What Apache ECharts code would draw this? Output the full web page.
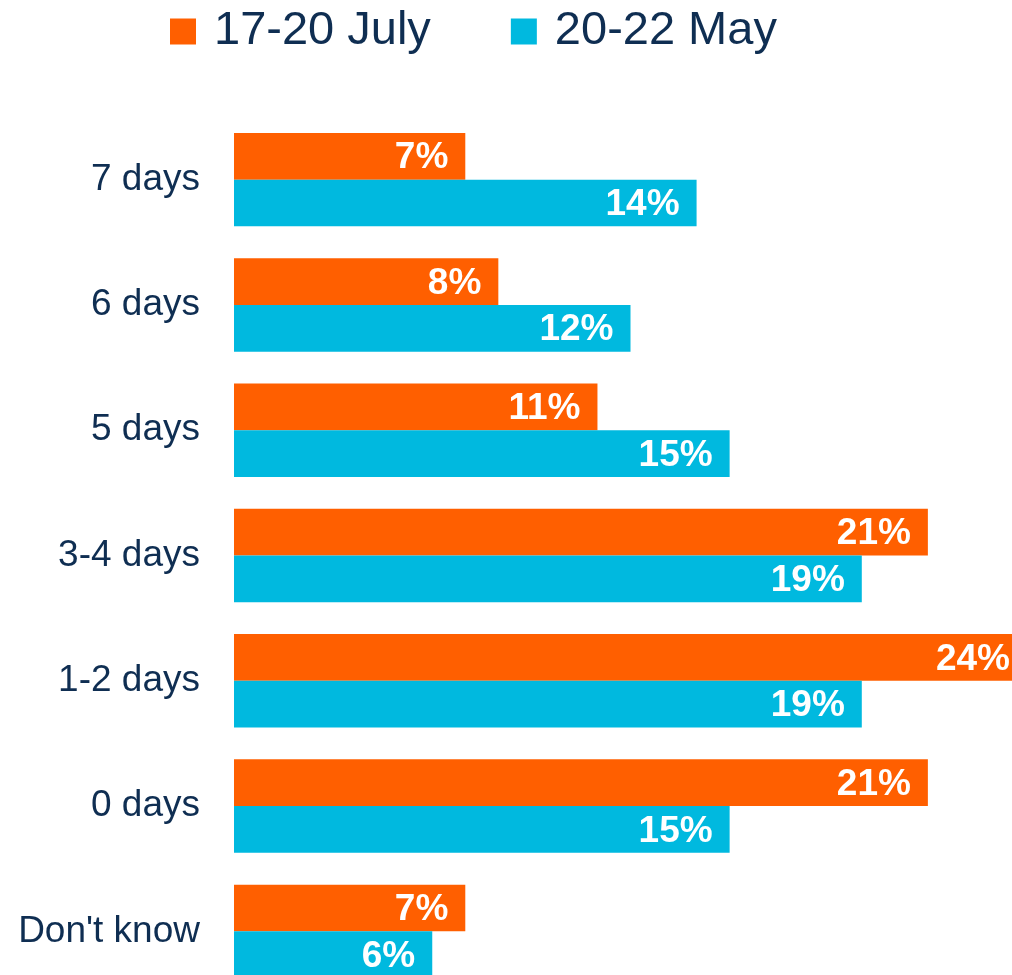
<!DOCTYPE html>
<html>
<head>
<meta charset="utf-8">
<script src="https://cdn.jsdelivr.net/npm/echarts@6/dist/echarts.min.js"></script>
<style>
html,body{margin:0;padding:0;background:#fff;overflow:hidden;width:1012px;height:975px;}
#chart{width:1027px;height:994px;}
</style>
</head>
<body>
<div id="chart"></div>
<script>
const categories = ["7 days", "6 days", "5 days", "3-4 days", "1-2 days", "0 days", "Don't know"];
const seriesNames = ["17-20 July", "20-22 May"];
const julyValues = [7, 8, 11, 21, 24, 21, 7];
const mayValues = [14, 12, 15, 19, 19, 15, 6];
const seriesColors = ["#FF5F00", "#00B9DF"];

const textColor = "#0F2E52";
const font = "'Liberation Sans', Arial, sans-serif";

const chart = echarts.init(document.getElementById('chart'), null, {renderer: 'canvas'});

function makeSeries(name, data, color) {
  return {
    name: name,
    type: 'bar',
    data: data,
    barGap: '0%',
    barCategoryGap: '25.4%',
    itemStyle: {color: color},
    label: {
      show: true,
      position: 'insideRight',
      distance: 17,
      offset: [0, 2],
      formatter: '{c}%',
      color: '#ffffff',
      fontFamily: font,
      fontWeight: 'bold',
      fontSize: 37
    },
    emphasis: {disabled: true}
  };
}

chart.setOption({
  animation: false,
  backgroundColor: '#ffffff',
  legend: {
    left: 170,
    top: 8,
    padding: 0,
    itemWidth: 26,
    itemHeight: 26,
    itemGap: 80,
    icon: 'rect',
    textStyle: {color: textColor, fontFamily: font, fontSize: 47, padding: [0, 0, 0, 13]},
    data: seriesNames
  },
  grid: {left: 234, right: 0, top: 117, bottom: 0, containLabel: false},
  xAxis: {
    type: 'value',
    min: 0,
    max: 24,
    show: false
  },
  yAxis: {
    type: 'category',
    data: categories,
    inverse: true,
    axisLine: {show: false},
    axisTick: {show: false},
    splitLine: {show: false},
    axisLabel: {color: textColor, fontFamily: font, fontSize: 37, margin: 34}
  },
  series: [
    makeSeries(seriesNames[0], julyValues, seriesColors[0]),
    makeSeries(seriesNames[1], mayValues, seriesColors[1])
  ]
});
</script>
</body>
</html>
